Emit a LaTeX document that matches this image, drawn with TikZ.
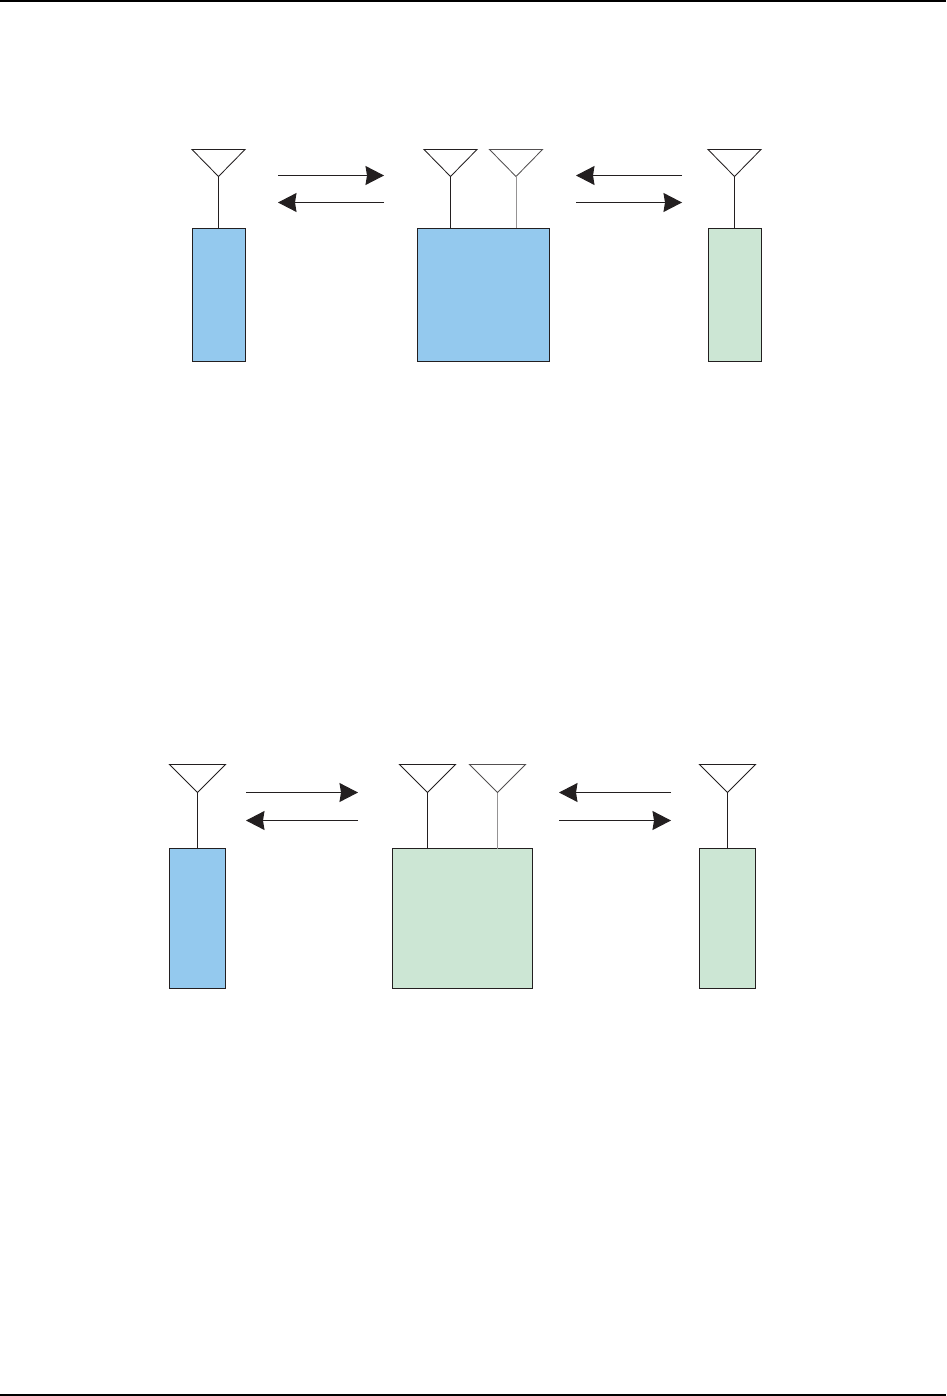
\documentclass[tikz,border=0pt]{standalone}
\usetikzlibrary{arrows.meta}
\definecolor{boxblue}{HTML}{94C9EE}
\definecolor{boxgreen}{HTML}{CCE6D4}
\definecolor{ink}{HTML}{231F20}
\tikzset{
  x=1pt,y=-1pt,
  base/.style={draw=ink,line width=1pt},
  unitbox/.style={base,rectangle,inner sep=0pt,outer sep=0pt,anchor=north west},
  aerial/.style={draw=ink,line width=0.85pt,line join=miter},
  faded/.style={draw=ink!78,line width=0.85pt},
  stem/.style={draw=ink,line width=1pt},
  fadedstem/.style={draw=ink!48,line width=1pt},
  link/.style={draw=ink,line width=1pt,-{Stealth[length=18.5pt,width=19pt,inset=1.5pt]}},
}
% #1 name, #2 apex x, #3 top y, #4 half width, #5 height, #6 triangle style, #7 stem style, #8 box
\newcommand{\myaerial}[8]{
  \coordinate (#1) at (#2,#3+#5);
  \coordinate (#1L) at (#2-#4,#3);
  \coordinate (#1R) at (#2+#4,#3);
  \draw[#6] (#1L) -- (#1R) -- (#1) -- cycle;
  \draw[#7] (#1) -- (#1 |- #8.north);
}
\newcommand{\myunit}[6]{
  \node[unitbox,fill=#6,minimum width=#4 pt,minimum height=#5 pt] (#1) at (#2,#3) {};
}
\newcommand{\mylink}[4]{
  \coordinate (#1a) at (#2,#4);
  \coordinate (#1b) at (#3,#4);
  \draw[link] (#1a) -- (#1b);
}
\begin{document}
\begin{tikzpicture}
\useasboundingbox (0,0) rectangle (946,1396);
\fill[black] (0,0) rectangle (946,2);
\fill[black] (0,1394) rectangle (946,1396);
% upper diagram
\myunit{ua}{192.5}{228.5}{53}{132.5}{boxblue}
\myunit{ub}{417.5}{228.5}{132}{132.5}{boxblue}
\myunit{uc}{708.5}{228.5}{53}{132.5}{boxgreen}
\myaerial{uaa}{218.5}{149.5}{26.5}{27}{aerial}{stem}{ua}
\myaerial{uba}{450.5}{149.5}{26.5}{27}{aerial}{stem}{ub}
\myaerial{ubb}{516}{149.5}{26.5}{27}{faded}{fadedstem}{ub}
\myaerial{uca}{734.5}{149.5}{26.5}{27}{aerial}{stem}{uc}
\mylink{ul}{278}{384}{175.5}
\mylink{um}{384}{278}{202.5}
\mylink{un}{682}{576}{175.5}
\mylink{uo}{576}{682}{202.5}
% lower diagram
\myunit{la}{169.5}{848.5}{56}{140}{boxblue}
\myunit{lb}{392.5}{848.5}{140}{140}{boxgreen}
\myunit{lc}{699.5}{848.5}{56}{140}{boxgreen}
\myaerial{laa}{197.5}{764.5}{28}{28}{aerial}{stem}{la}
\myaerial{lba}{427.5}{764.5}{28}{28}{aerial}{stem}{lb}
\myaerial{lbb}{497.5}{764.5}{28}{28}{faded}{fadedstem}{lb}
\myaerial{lca}{727.5}{764.5}{28}{28}{aerial}{stem}{lc}
\mylink{ll}{246}{358}{792.5}
\mylink{lm}{358}{246}{820.5}
\mylink{ln}{671}{559}{792.5}
\mylink{lo}{559}{671}{820.5}
\end{tikzpicture}
\end{document}
